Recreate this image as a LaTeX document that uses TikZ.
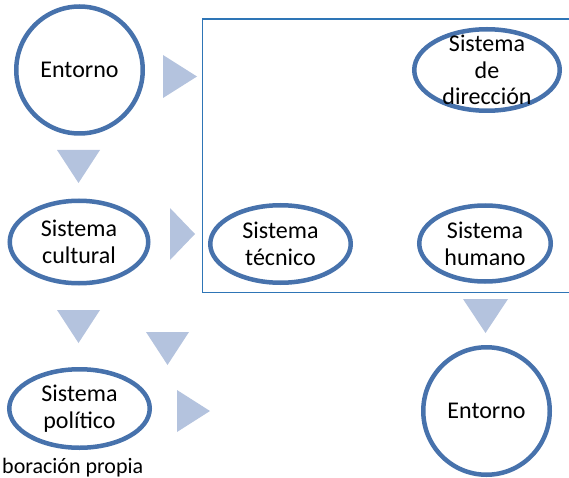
\documentclass[tikz,border=0pt]{standalone}
\usepackage{fontspec}
\setmainfont{Carlito}
\usetikzlibrary{shapes.geometric}
\definecolor{ringblue}{RGB}{71,114,172}
\definecolor{triblue}{RGB}{180,195,222}
\definecolor{frameblue}{RGB}{46,117,182}
\begin{document}
\begin{tikzpicture}[x=1pt,y=-1pt,
  sys/.style={ellipse, draw=ringblue, line width=4.5pt, fill=white, inner sep=0pt,
    align=center, font=\fontsize{24}{27}\selectfont},
  lbl/.style={align=center, inner sep=0pt, font=\fontsize{24}{26.5}\selectfont},
  tri/.style={fill=triblue}]
\useasboundingbox (0,0) rectangle (569,478);
% frame
\draw[frameblue, line width=1.3pt] (569,19) -- (202.5,19) -- (202.5,292.5) -- (569,292.5);
% systems
\node[sys, minimum width=126.5pt, minimum height=127pt] (ent1) at (79.5,70) {Entorno};
\node[sys, minimum width=138.5pt, minimum height=82.5pt] (cult) at (79,242) {Sistema\\cultural};
\node[sys, minimum width=140.5pt, minimum height=77.5pt] (tec) at (280.5,244) {Sistema\\técnico};
\node[sys, minimum width=131.5pt, minimum height=76pt] (hum) at (485,243.5) {Sistema\\humano};
\node[sys, minimum width=145.5pt, minimum height=81.5pt] (dir) at (487,70) {};
\node[lbl] (dirtext) at (dir.center) {Sistema\\de\\dirección};
\node[sys, minimum width=140.5pt, minimum height=78.5pt] (pol) at (79.5,408.5) {Sistema\\político};
\node[sys, minimum width=126.5pt, minimum height=127.5pt] (ent2) at (486.5,411) {Entorno};
% triangles
\fill[tri] (163,55) -- (163,98) -- (197,76.5) -- cycle;
\fill[tri] (57,150) -- (100,150) -- (78.5,183) -- cycle;
\fill[tri] (170,208) -- (170,260) -- (195,234) -- cycle;
\fill[tri] (57,310) -- (100,310) -- (78.5,343) -- cycle;
\fill[tri] (146,332) -- (189,332) -- (167.5,365) -- cycle;
\fill[tri] (177,390) -- (177,432) -- (210,411) -- cycle;
\fill[tri] (463,299) -- (508,299) -- (485.5,333) -- cycle;
% caption
\node[anchor=base west, inner sep=0pt, font=\fontsize{22}{24}\selectfont] (cap) at (2,473) {boración propia};
\end{tikzpicture}
\end{document}
